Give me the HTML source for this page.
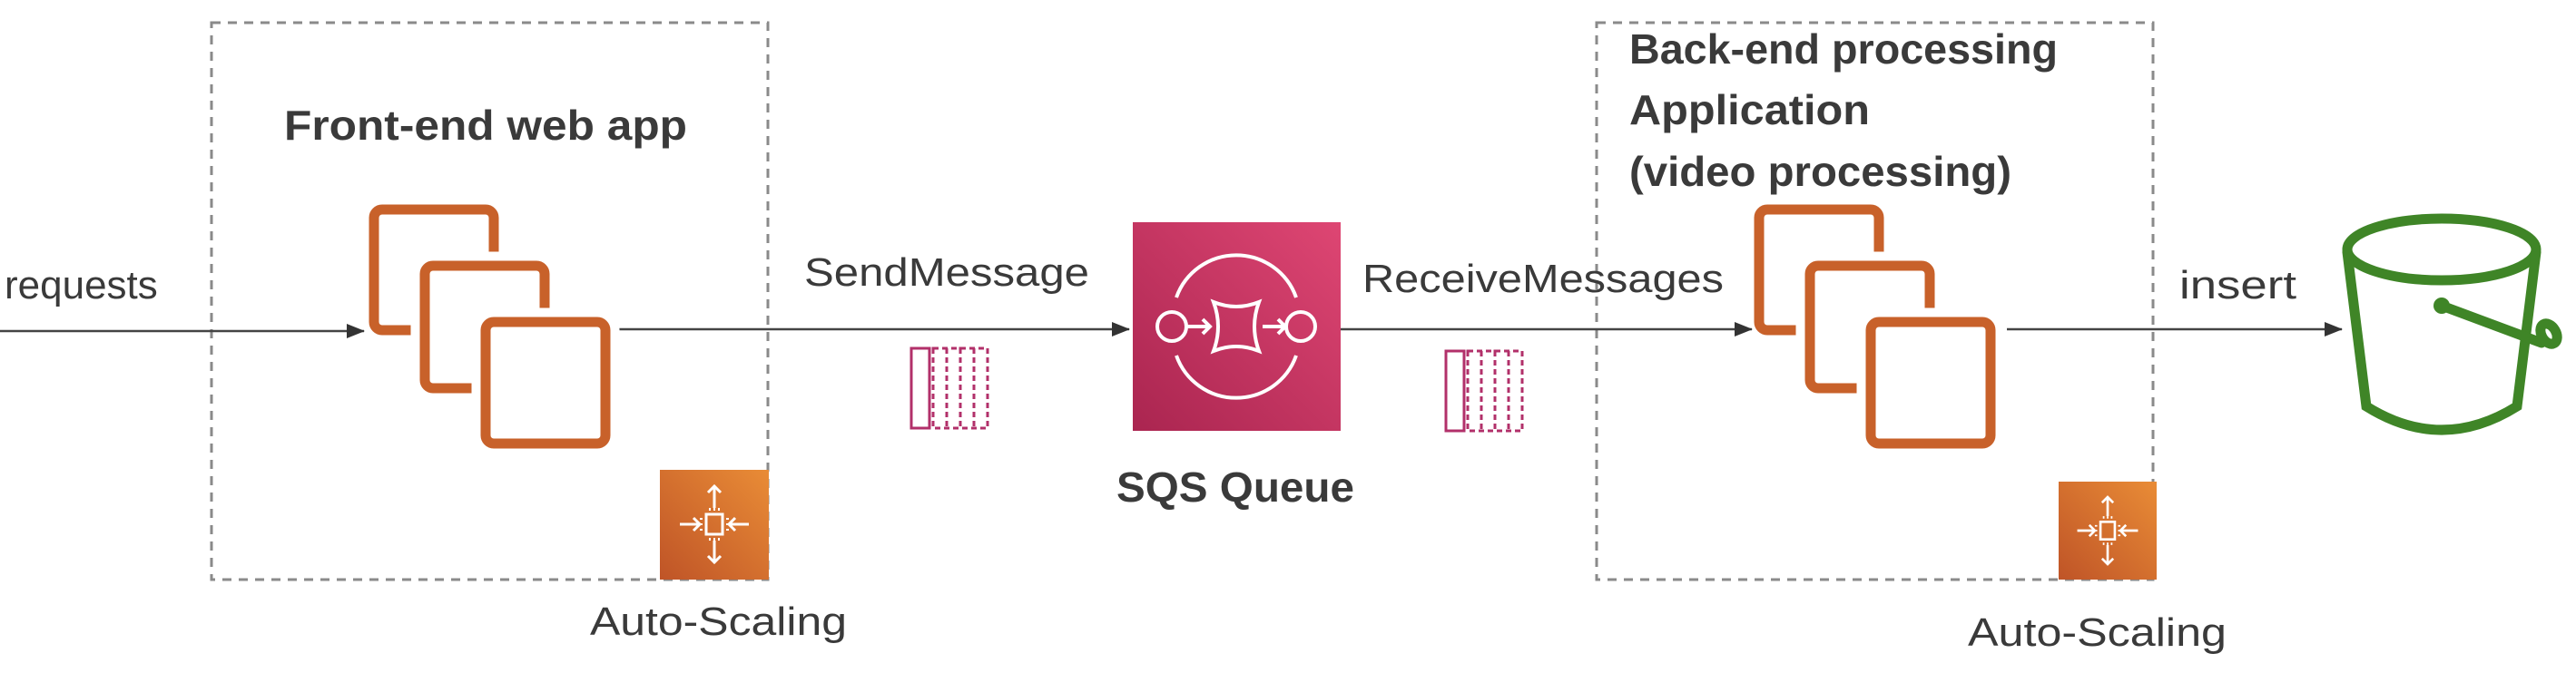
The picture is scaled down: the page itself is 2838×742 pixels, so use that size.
<!DOCTYPE html>
<html><head><meta charset="utf-8"><style>
html,body{margin:0;padding:0;background:#fff;}
svg{display:block;}
text{font-family:"Liberation Sans",sans-serif;fill:#3a3a3a;}
.b{font-weight:bold;}
</style></head><body>
<svg width="2838" height="742" viewBox="0 0 2838 742" xmlns="http://www.w3.org/2000/svg">
<defs>
<linearGradient id="pk" x1="0" y1="1" x2="1" y2="0"><stop offset="0" stop-color="#aa2550"/><stop offset="1" stop-color="#de4673"/></linearGradient>
<linearGradient id="or" x1="0" y1="1" x2="1" y2="0"><stop offset="0" stop-color="#bf5427"/><stop offset="1" stop-color="#e98c36"/></linearGradient>
<marker id="ah" markerWidth="20" markerHeight="20" refX="19" refY="10" orient="auto" markerUnits="userSpaceOnUse" viewBox="0 0 20 20"><path d="M0,2 L20,10 L0,18 z" fill="#333"/></marker>
<g id="ec2">
<rect x="0" y="0" width="132" height="133" rx="9" fill="#fff" stroke="#c8612a" stroke-width="11"/>
<rect x="56" y="62" width="132" height="135" rx="9" fill="#fff" stroke="#fff" stroke-width="31"/>
<rect x="56" y="62" width="132" height="135" rx="9" fill="#fff" stroke="#c8612a" stroke-width="11"/>
<rect x="123" y="124" width="132" height="134" rx="9" fill="#fff" stroke="#fff" stroke-width="31"/>
<rect x="123" y="124" width="132" height="134" rx="9" fill="#fff" stroke="#c8612a" stroke-width="11"/>
</g>
<g id="msg" fill="none" stroke="#b2306a" stroke-width="3">
<rect x="0" y="0" width="20" height="88"/>
<rect x="24" y="0" width="30" height="88" stroke-dasharray="6,4"/>
<rect x="54" y="0" width="30" height="88" stroke-dasharray="6,4"/>
<line x1="39" y1="0" x2="39" y2="88" stroke-dasharray="6,4"/>
<line x1="69" y1="0" x2="69" y2="88" stroke-dasharray="6,4"/>
</g>
<g id="as" stroke="#fff" stroke-width="3" fill="none">
<rect x="-9" y="-11" width="18" height="22"/>
<path d="M0,-18 V-42 M-7,-35 L0,-42 L7,-35"/>
<path d="M0,18 V42 M-7,35 L0,42 L7,35"/>
<path d="M-38,0 H-16 M-23,-7 L-16,0 L-23,7"/>
<path d="M38,0 H16 M23,-7 L16,0 L23,7"/>
<path d="M-13,-6 h-3 M-13,0 h-3 M-13,6 h-3 M13,-6 h3 M13,0 h3 M13,6 h3 M-5,-15 v-3 M0,-15 v-3 M5,-15 v-3 M-5,15 v3 M0,15 v3 M5,15 v3" stroke-width="2"/>
</g>
</defs>

<rect x="233" y="25" width="613" height="614" fill="none" stroke="#8a8a8a" stroke-width="3" stroke-dasharray="10,8"/>
<rect x="1759" y="25" width="613" height="614" fill="none" stroke="#8a8a8a" stroke-width="3" stroke-dasharray="10,8"/>

<line x1="0" y1="365" x2="401" y2="365" stroke="#444" stroke-width="2.5" marker-end="url(#ah)"/>
<line x1="678" y1="363" x2="1244" y2="363" stroke="#444" stroke-width="2.5" marker-end="url(#ah)"/>
<line x1="1477" y1="363" x2="1930" y2="363" stroke="#444" stroke-width="2.5" marker-end="url(#ah)"/>
<line x1="2211" y1="363" x2="2580" y2="363" stroke="#444" stroke-width="2.5" marker-end="url(#ah)"/>

<text x="5" y="329" font-size="44">requests</text>
<text class="b" x="313" y="154" font-size="46" textLength="444" lengthAdjust="spacingAndGlyphs">Front-end web app</text>
<text x="886" y="315" font-size="44" textLength="314" lengthAdjust="spacingAndGlyphs">SendMessage</text>
<text class="b" x="1230" y="553" font-size="46" textLength="262" lengthAdjust="spacingAndGlyphs">SQS Queue</text>
<text x="1501" y="322" font-size="44" textLength="398" lengthAdjust="spacingAndGlyphs">ReceiveMessages</text>
<text class="b" x="1795" y="70" font-size="46" textLength="472" lengthAdjust="spacingAndGlyphs">Back-end processing</text>
<text class="b" x="1795" y="137" font-size="46" textLength="265" lengthAdjust="spacingAndGlyphs">Application</text>
<text class="b" x="1795" y="205" font-size="46" textLength="421" lengthAdjust="spacingAndGlyphs">(video processing)</text>
<text x="2401" y="329" font-size="44" textLength="129" lengthAdjust="spacingAndGlyphs">insert</text>
<text x="650" y="700" font-size="44" textLength="283" lengthAdjust="spacingAndGlyphs">Auto-Scaling</text>
<text x="2168" y="712" font-size="44" textLength="285" lengthAdjust="spacingAndGlyphs">Auto-Scaling</text>

<use href="#ec2" x="412" y="231"/>
<use href="#ec2" x="1938" y="231"/>

<use href="#msg" x="1004" y="384"/>
<use href="#msg" x="1593" y="387"/>

<rect x="1248" y="245" width="229" height="230" fill="url(#pk)"/>
<g stroke="#fff" stroke-width="4" fill="none">
<path d="M1296,328 A70,70 0 0 1 1428,328"/>
<path d="M1296,392 A70,70 0 0 0 1428,392"/>
<circle cx="1291" cy="360" r="16"/>
<circle cx="1433" cy="360" r="16"/>
<path d="M1308,360 H1333 M1325,352 L1333,360 L1325,368"/>
<path d="M1391,360 H1416 M1408,352 L1416,360 L1408,368"/>
<path d="M1337,333 Q1362,343 1387,333 Q1377,360 1387,387 Q1362,377 1337,387 Q1347,360 1337,333 Z"/>
</g>

<rect x="727" y="518" width="120" height="121" fill="url(#or)"/>
<use href="#as" x="787" y="578"/>
<rect x="2268" y="531" width="108" height="108" fill="url(#or)"/>
<g transform="translate(2322,585) scale(0.88)"><use href="#as"/></g>

<g stroke="#3f8527" stroke-width="11" fill="none" stroke-linecap="round">
<ellipse cx="2690" cy="275" rx="104" ry="34"/>
<path d="M2586,278 L2607,448 Q2690,500 2773,448 L2794,278"/>
<path d="M2690,337 L2800,378"/>
<ellipse cx="2808" cy="368" rx="8" ry="12" transform="rotate(-30 2808 368)"/>
</g>
<circle cx="2690" cy="337" r="9" fill="#3f8527"/>
</svg>
</body></html>
